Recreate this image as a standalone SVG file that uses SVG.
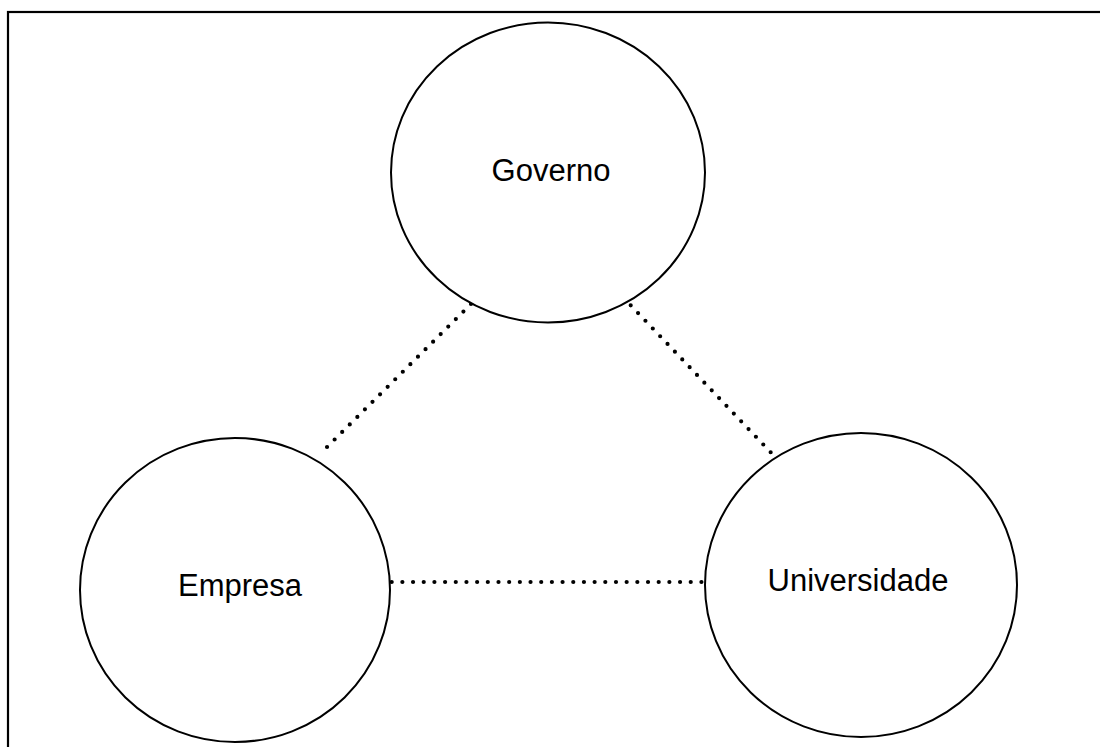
<svg xmlns="http://www.w3.org/2000/svg" width="1100" height="747" viewBox="0 0 1100 747">
<style>
.node ellipse{fill:#fff;stroke:#000;stroke-width:2}
.node text{font-family:"Liberation Sans",Arial,sans-serif;font-size:31px;fill:#000;text-anchor:middle}
.link{stroke:#000;stroke-width:4.2;stroke-linecap:round;stroke-dasharray:0 10.68;fill:none}
</style>
<rect x="0" y="0" width="1100" height="747" fill="#fff"/>
<rect x="8" y="12" width="1200" height="800" fill="none" stroke="#000" stroke-width="2.2"/>
<g id="connectors">
<line class="link" x1="471" y1="304" x2="320" y2="454"/>
<line class="link" x1="630.7" y1="305.3" x2="770.7" y2="452.3"/>
<line class="link" x1="391.7" y1="582" x2="701.7" y2="582"/>
</g>
<g id="governo" class="node">
<ellipse cx="548" cy="172.5" rx="157" ry="150"/>
<text x="551" y="181">Governo</text>
</g>
<g id="empresa" class="node">
<ellipse cx="235" cy="590" rx="155" ry="152"/>
<text x="240" y="596">Empresa</text>
</g>
<g id="universidade" class="node">
<ellipse cx="861" cy="585" rx="156" ry="152"/>
<text x="858" y="591">Universidade</text>
</g>
</svg>
